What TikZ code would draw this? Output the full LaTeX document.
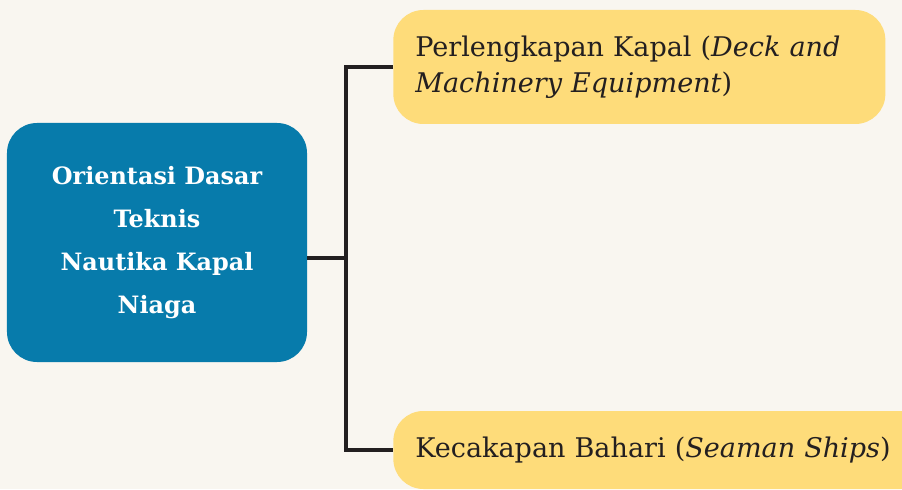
\documentclass[tikz,border=0pt]{standalone}
\usepackage{fontspec}
\setmainfont{DejaVu Serif}
\usetikzlibrary{positioning}
\definecolor{bgcream}{HTML}{F9F6F0}
\definecolor{topicblue}{HTML}{077BAB}
\definecolor{subyellow}{HTML}{FEDC7A}
\definecolor{inkdark}{HTML}{231F20}
\tikzset{
    mainbox/.style={rounded corners=0.6cm, fill=topicblue, text=white, align=center,
        font=\fontsize{13.6}{24.4}\selectfont\bfseries,
        minimum width=6cm, minimum height=4.78cm, inner sep=0pt},
    subbox/.style={rounded corners=0.6cm, fill=subyellow, text=inkdark, align=left,
        font=\fontsize{15.4}{20.4}\selectfont, inner xsep=0.44cm, inner ysep=0pt, anchor=west},
    link/.style={draw=inkdark, line width=1.9pt}
}

\begin{document}
\begin{tikzpicture}
    \fill[bgcream] (0, 0) rectangle (18.04, 9.78);
    \useasboundingbox (0, 0) rectangle (18.04, 9.78);
    \node[mainbox] (topic) at (3.14, 4.93) {Orientasi Dasar\\Teknis\\Nautika Kapal\\Niaga};
    \node[subbox, text width=8.96cm, minimum height=2.28cm] (deck) at (7.86, 8.44)
        {Perlengkapan Kapal (\textit{Deck and}\\\textit{Machinery Equipment})};
    \node[subbox, text width=9.92cm, minimum height=1.56cm] (seaman) at (7.86, 0.78)
        {Kecakapan Bahari (\textit{Seaman Ships})};
    \coordinate (fork) at (6.92, 4.62);
    \draw[link] (fork -| topic.east) -- (fork);
    \draw[link] (deck.west) -| (fork) |- (seaman.west);
\end{tikzpicture}
\end{document}
